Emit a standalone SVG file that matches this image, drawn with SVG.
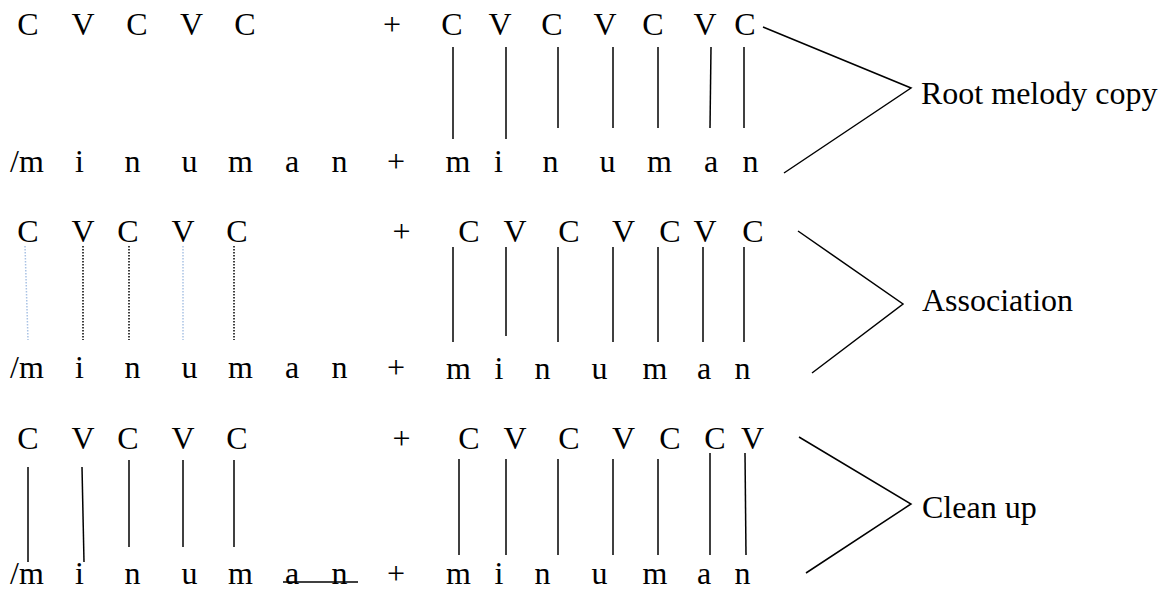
<svg xmlns="http://www.w3.org/2000/svg" width="1170" height="590" viewBox="0 0 1170 590">
<style>
text{font-family:"Liberation Serif","Times New Roman",Times,"Nimbus Roman","Nimbus Roman No9 L","Noto Serif",Tinos,FreeSerif,"DejaVu Serif",serif;font-size:32px;fill:#000}
.c{text-anchor:middle}
.ln{stroke:#000;stroke-width:1.5;fill:none}
.dk{stroke:#000;stroke-width:1.5;stroke-dasharray:1.5 1.5;fill:none}
.lb{stroke:#a9c2e4;stroke-width:1.5;stroke-dasharray:1.5 1.5;fill:none}
</style>
<rect width="1170" height="590" fill="#fff"/>
<g id="row1">
<g id="r1-top-left"><text x="28" y="35" class="c">C</text><text x="83" y="35" class="c">V</text><text x="137" y="35" class="c">C</text><text x="191.5" y="35" class="c">V</text><text x="245" y="35" class="c">C</text><text x="392" y="35" class="c">+</text></g>
<g id="r1-top-right"><text x="452" y="35" class="c">C</text><text x="500" y="35" class="c">V</text><text x="552" y="35" class="c">C</text><text x="605" y="35" class="c">V</text><text x="653" y="35" class="c">C</text><text x="705" y="35" class="c">V</text><text x="745" y="35" class="c">C</text></g>
<g id="r1-bottom-left"><text x="10" y="172">/m</text><text x="79.5" y="172" class="c">i</text><text x="132.5" y="172" class="c">n</text><text x="189.5" y="172" class="c">u</text><text x="240.5" y="172" class="c">m</text><text x="292" y="172" class="c">a</text><text x="339.5" y="172" class="c">n</text><text x="396" y="172" class="c">+</text></g>
<g id="r1-bottom-right"><text x="458" y="172" class="c">m</text><text x="498.5" y="172" class="c">i</text><text x="550.5" y="172" class="c">n</text><text x="607.5" y="172" class="c">u</text><text x="659.5" y="172" class="c">m</text><text x="711" y="172" class="c">a</text><text x="750.5" y="172" class="c">n</text></g>
<text id="label-root" x="921" y="104">Root melody copy</text>
</g>
<g id="row2">
<g id="r2-top-left"><text x="28" y="242" class="c">C</text><text x="83" y="242" class="c">V</text><text x="128" y="242" class="c">C</text><text x="183" y="242" class="c">V</text><text x="237" y="242" class="c">C</text><text x="401.5" y="242" class="c">+</text></g>
<g id="r2-top-right"><text x="469" y="242" class="c">C</text><text x="515" y="242" class="c">V</text><text x="569" y="242" class="c">C</text><text x="623.5" y="242" class="c">V</text><text x="670" y="242" class="c">C</text><text x="705" y="242" class="c">V</text><text x="753" y="242" class="c">C</text></g>
<g id="r2-bottom-left"><text x="10" y="378">/m</text><text x="79.5" y="378" class="c">i</text><text x="132.5" y="378" class="c">n</text><text x="189.5" y="378" class="c">u</text><text x="240.5" y="378" class="c">m</text><text x="292" y="378" class="c">a</text><text x="339.5" y="378" class="c">n</text><text x="396" y="378" class="c">+</text></g>
<g id="r2-bottom-right"><text x="458.5" y="379" class="c">m</text><text x="499" y="379" class="c">i</text><text x="542.5" y="379" class="c">n</text><text x="599.5" y="379" class="c">u</text><text x="655" y="379" class="c">m</text><text x="704" y="379" class="c">a</text><text x="742.5" y="379" class="c">n</text></g>
<text id="label-assoc" x="922" y="311">Association</text>
</g>
<g id="row3">
<g id="r3-top-left"><text x="28" y="449" class="c">C</text><text x="83" y="449" class="c">V</text><text x="128" y="449" class="c">C</text><text x="183" y="449" class="c">V</text><text x="237" y="449" class="c">C</text><text x="401.5" y="449" class="c">+</text></g>
<g id="r3-top-right"><text x="469" y="449" class="c">C</text><text x="515" y="449" class="c">V</text><text x="569" y="449" class="c">C</text><text x="623.5" y="449" class="c">V</text><text x="670" y="449" class="c">C</text><text x="715" y="449" class="c">C</text><text x="752.5" y="449" class="c">V</text></g>
<g id="r3-bottom-left"><text x="10" y="584">/m</text><text x="79.5" y="584" class="c">i</text><text x="132.5" y="584" class="c">n</text><text x="189.5" y="584" class="c">u</text><text x="240.5" y="584" class="c">m</text><text x="292" y="584" class="c">a</text><text x="339.5" y="584" class="c">n</text><text x="396" y="584" class="c">+</text></g>
<g id="r3-bottom-right"><text x="458.5" y="584" class="c">m</text><text x="499" y="584" class="c">i</text><text x="542.5" y="584" class="c">n</text><text x="599.5" y="584" class="c">u</text><text x="655" y="584" class="c">m</text><text x="704" y="584" class="c">a</text><text x="742.5" y="584" class="c">n</text></g>
<text id="label-clean" x="922" y="518">Clean up</text>
</g>
<g id="connectors">
<line class="ln" x1="453" y1="47" x2="453" y2="139"/>
<line class="ln" x1="506" y1="47" x2="506" y2="139"/>
<line class="ln" x1="558" y1="47" x2="558" y2="128"/>
<line class="ln" x1="613" y1="47" x2="613" y2="128"/>
<line class="ln" x1="658" y1="47" x2="658" y2="128"/>
<line class="ln" x1="711" y1="47" x2="710" y2="128"/>
<line class="ln" x1="744" y1="47" x2="744" y2="128"/>
<polyline class="ln" points="763,27 911,88 784,173"/>
<line class="lb" x1="25" y1="246" x2="28" y2="340"/>
<line class="dk" x1="83" y1="246" x2="83" y2="340"/>
<line class="dk" x1="129" y1="246" x2="129" y2="340"/>
<line class="lb" x1="183" y1="246" x2="183" y2="340"/>
<line class="dk" x1="234" y1="246" x2="234" y2="340"/>
<line class="ln" x1="453" y1="247" x2="453" y2="342"/>
<line class="ln" x1="506" y1="247" x2="506" y2="336"/>
<line class="ln" x1="558" y1="247" x2="558" y2="342"/>
<line class="ln" x1="613" y1="247" x2="613" y2="342"/>
<line class="ln" x1="658" y1="247" x2="658" y2="342"/>
<line class="ln" x1="703" y1="247" x2="703" y2="342"/>
<line class="ln" x1="744" y1="247" x2="744" y2="342"/>
<polyline class="ln" points="798,231 903,304 812,373"/>
<line class="ln" x1="28" y1="467" x2="28" y2="562"/>
<line class="ln" x1="82" y1="467" x2="84" y2="562"/>
<line class="ln" x1="129" y1="460" x2="129" y2="547"/>
<line class="ln" x1="183" y1="460" x2="183" y2="547"/>
<line class="ln" x1="234" y1="460" x2="234" y2="547"/>
<line class="ln" x1="283" y1="582" x2="358" y2="582"/>
<line class="ln" x1="459" y1="459" x2="459" y2="555"/>
<line class="ln" x1="506" y1="459" x2="506" y2="555"/>
<line class="ln" x1="558" y1="459" x2="558" y2="555"/>
<line class="ln" x1="613" y1="459" x2="613" y2="555"/>
<line class="ln" x1="658" y1="459" x2="658" y2="555"/>
<line class="ln" x1="710" y1="453" x2="710" y2="555"/>
<line class="ln" x1="745" y1="453" x2="746" y2="555"/>
<polyline class="ln" points="799,437 911,504 806,573"/>
</g>
</svg>
